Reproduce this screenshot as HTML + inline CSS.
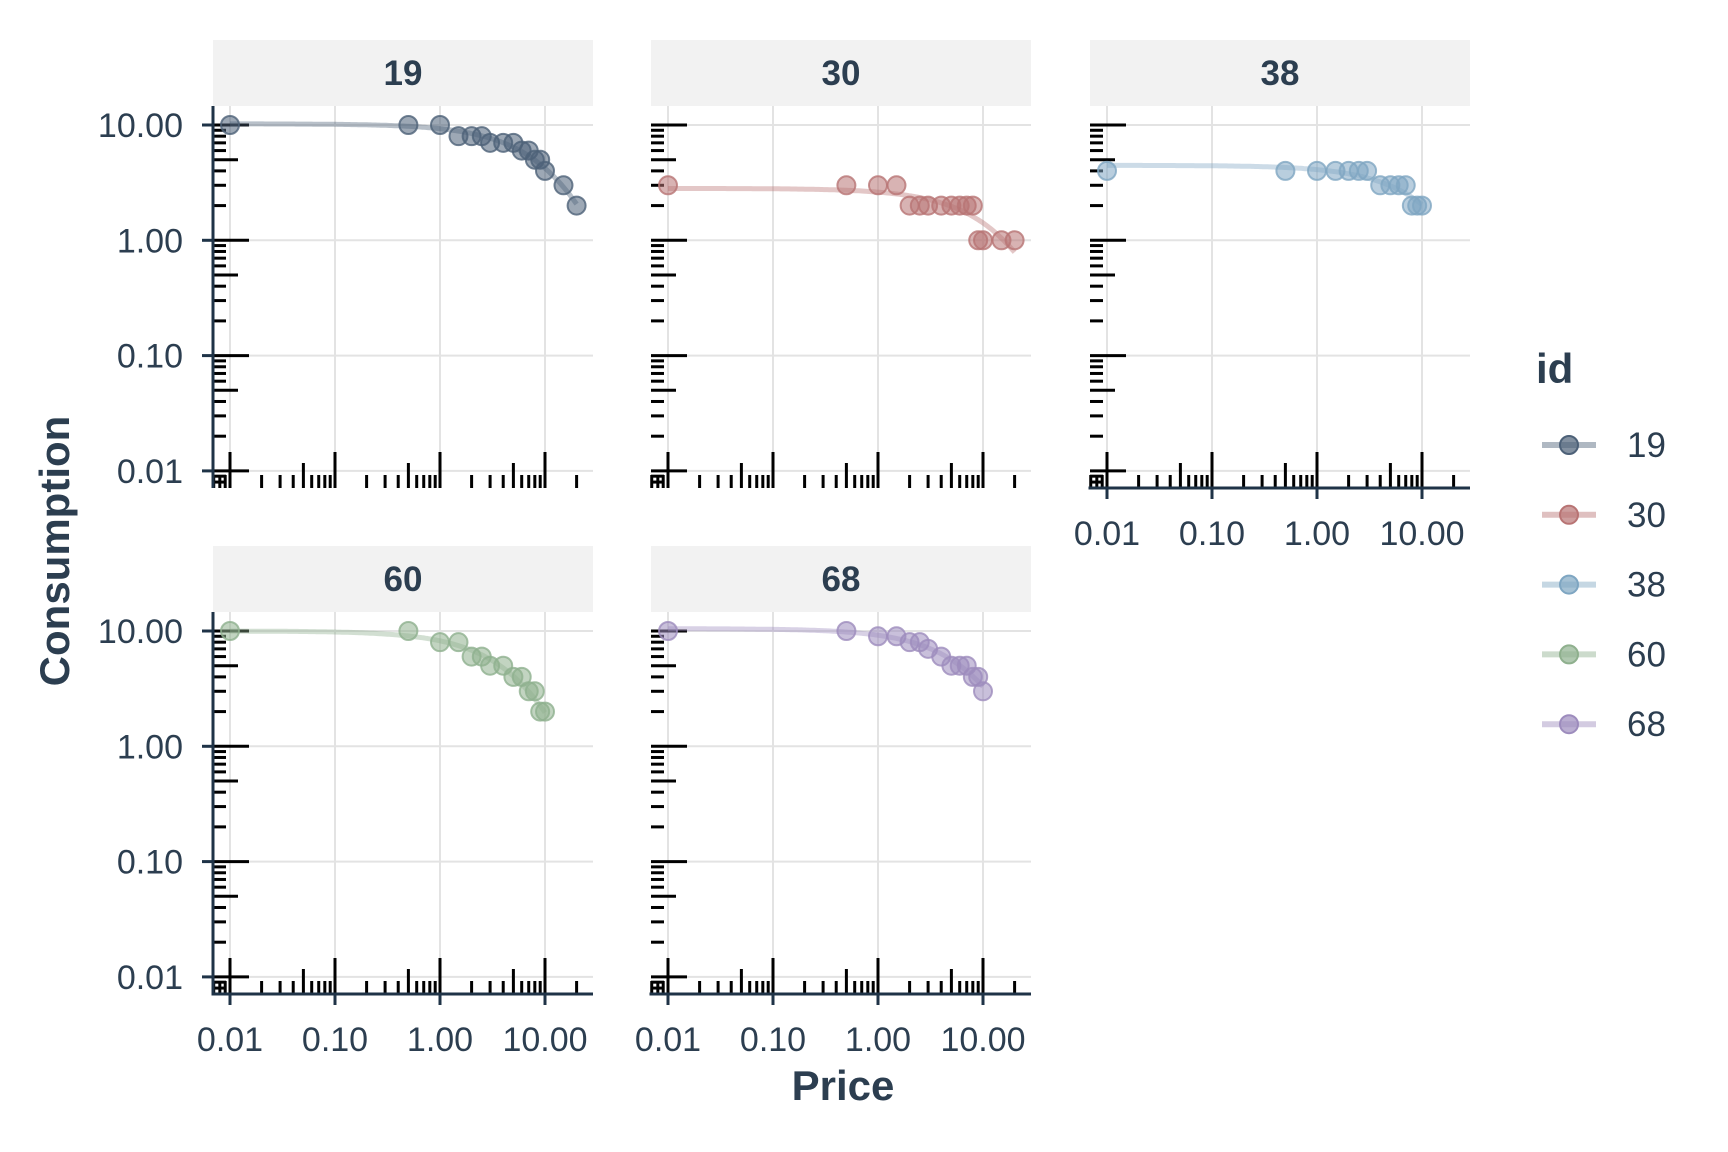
<!DOCTYPE html>
<html><head><meta charset="utf-8"><style>
html,body{margin:0;padding:0;background:#fff;}
svg{display:block;font-family:"Liberation Sans",sans-serif;}
</style></head><body>
<svg id="s" xmlns="http://www.w3.org/2000/svg" width="1728" height="1152" viewBox="0 0 1728 1152">
<rect width="1728" height="1152" fill="#fff"/>
</svg>
<script>
var s=document.getElementById('s');var out='';
var NAV='#1f3347',TXT='#2c3e50';
var panels=[
 {id:'19',L:213,T:106,c:'#4d6178',x:[0,.5,1,1.5,2,2.5,3,4,5,6,7,8,9,10,15,20],y:[10,10,10,8,8,8,7,7,7,6,6,5,5,4,3,2],yax:true,xax:false},
 {id:'30',L:651,T:106,c:'#b87474',x:[0,.5,1,1.5,2,2.5,3,4,5,6,7,8,9,10,15,20],y:[3,3,3,3,2,2,2,2,2,2,2,2,1,1,1,1],yax:false,xax:false},
 {id:'38',L:1090,T:106,c:'#7fa6c2',x:[0,.5,1,1.5,2,2.5,3,4,5,6,7,8,9,10],y:[4,4,4,4,4,4,4,3,3,3,3,2,2,2],yax:false,xax:true},
 {id:'60',L:213,T:612,c:'#8fb08e',x:[0,.5,1,1.5,2,2.5,3,4,5,6,7,8,9,10],y:[10,10,8,8,6,6,5,5,4,4,3,3,2,2],yax:true,xax:true},
 {id:'68',L:651,T:612,c:'#9d8cbd',x:[0,.5,1,1.5,2,2.5,3,4,5,6,7,8,9,10],y:[10,10,9,9,8,8,7,6,5,5,5,4,4,3],yax:false,xax:true}
];
var W=380,H=382,DX=105,DY=115.3;
function lg(v){return Math.log(v)/Math.LN10;}
panels.forEach(function(p){
 function X(v){return p.L+17+(lg(Math.max(v,0.01))+2)*DX;}
 function Y(v){return p.T+19+(1-lg(v))*DY;}
 var L=p.L,T=p.T,R=L+W,B=T+H;
 out+='<rect x="'+L+'" y="'+(T-66)+'" width="'+W+'" height="66" fill="#f2f2f2"/>';
 out+='<text x="'+(L+W/2)+'" y="'+(T-21)+'" text-anchor="middle" font-size="35" font-weight="bold" fill="'+TXT+'">'+p.id+'</text>';
 [0.01,0.1,1,10].forEach(function(v){
  out+='<line x1="'+X(v)+'" y1="'+T+'" x2="'+X(v)+'" y2="'+B+'" stroke="#e3e3e3" stroke-width="2"/>';
  out+='<line x1="'+L+'" y1="'+Y(v)+'" x2="'+R+'" y2="'+Y(v)+'" stroke="#e3e3e3" stroke-width="2"/>';
 });
 for(var e=-4;e<=2;e++){for(var m=1;m<=9;m++){var v=m*Math.pow(10,e);
  var len=m==1?36:(m==5?25:13);
  var yy=Y(v); if(yy>=T+1&&yy<=B-1) out+='<line x1="'+L+'" y1="'+yy+'" x2="'+(L+len)+'" y2="'+yy+'" stroke="#000" stroke-width="3"/>';
  var xx=X(v); if(v>=0.001&&xx>=L+1&&xx<=R-1&&lg(v)>-2.2) out+='<line x1="'+xx+'" y1="'+B+'" x2="'+xx+'" y2="'+(B-len)+'" stroke="#000" stroke-width="3"/>';
 }}
 [0.009,0.008,0.007].forEach(function(v){var xx=p.L+17+(lg(v)+2)*DX;if(xx>L)out+='<line x1="'+xx+'" y1="'+B+'" x2="'+xx+'" y2="'+(B-13)+'" stroke="#000" stroke-width="3"/>';});
 var best=null,k=2;
 for(var q=0.3;q<=1.2;q+=0.01){for(var la=-5;la<=-0.5;la+=0.02){var a=Math.pow(10,la),Q0=Math.pow(10,q),err=0;
   for(var i=0;i<p.x.length;i++){var pr=q+k*(Math.exp(-a*Q0*p.x[i])-1);err+=Math.pow(pr-lg(p.y[i]),2);}
   if(!best||err<best.e)best={e:err,q:q,a:a};}}
 var pts=[],xmax=p.x[p.x.length-1];
 for(var t=0;t<=200;t++){var lx=-2+(lg(xmax)+2)*t/200,P=Math.pow(10,lx),Q0=Math.pow(10,best.q);
  var lq=best.q+k*(Math.exp(-best.a*Q0*P)-1);pts.push(X(P).toFixed(1)+','+Y(Math.pow(10,lq)).toFixed(1));}
 out+='<polyline points="'+pts.join(' ')+'" fill="none" stroke="'+p.c+'" stroke-opacity="0.4" stroke-width="5"/>';
 for(var i=0;i<p.x.length;i++){out+='<circle cx="'+X(p.x[i])+'" cy="'+Y(p.y[i])+'" r="9" fill="'+p.c+'" fill-opacity="0.55" stroke="'+p.c+'" stroke-opacity="0.8" stroke-width="2"/>';}
 if(p.yax){out+='<line x1="'+L+'" y1="'+T+'" x2="'+L+'" y2="'+(B+(p.xax?1.5:0))+'" stroke="'+NAV+'" stroke-width="3"/>';
  [[10,'10.00'],[1,'1.00'],[0.1,'0.10'],[0.01,'0.01']].forEach(function(d){var yy=Y(d[0]);
   out+='<line x1="'+(L-11)+'" y1="'+yy+'" x2="'+L+'" y2="'+yy+'" stroke="'+NAV+'" stroke-width="3"/>';
   out+='<text x="'+(L-30)+'" y="'+(yy+12)+'" text-anchor="end" font-size="34" fill="'+TXT+'">'+d[1]+'</text>';});}
 if(p.xax){out+='<line x1="'+(L-1.5)+'" y1="'+B+'" x2="'+R+'" y2="'+B+'" stroke="'+NAV+'" stroke-width="3"/>';
  [[0.01,'0.01'],[0.1,'0.10'],[1,'1.00'],[10,'10.00']].forEach(function(d){var xx=X(d[0]);
   out+='<line x1="'+xx+'" y1="'+B+'" x2="'+xx+'" y2="'+(B+11)+'" stroke="'+NAV+'" stroke-width="3"/>';
   out+='<text x="'+xx+'" y="'+(B+57)+'" text-anchor="middle" font-size="34" fill="'+TXT+'">'+d[1]+'</text>';});}
});
out+='<text transform="translate(69,551) rotate(-90)" text-anchor="middle" font-size="42" font-weight="bold" fill="'+TXT+'">Consumption</text>';
out+='<text x="843" y="1100" text-anchor="middle" font-size="42" font-weight="bold" fill="'+TXT+'">Price</text>';
out+='<text x="1536" y="383" font-size="42" font-weight="bold" fill="'+TXT+'">id</text>';
panels.forEach(function(p,i){var y=445+i*69.8;
 out+='<line x1="1542" y1="'+y+'" x2="1596" y2="'+y+'" stroke="'+p.c+'" stroke-opacity="0.45" stroke-width="6"/>';
 out+='<circle cx="1569" cy="'+y+'" r="9" fill="'+p.c+'" fill-opacity="0.7" stroke="'+p.c+'" stroke-width="2"/>';
 out+='<text x="1627" y="'+(y+12)+'" font-size="35" fill="'+TXT+'">'+p.id+'</text>';});
s.insertAdjacentHTML('beforeend',out);
</script>
</body></html>
